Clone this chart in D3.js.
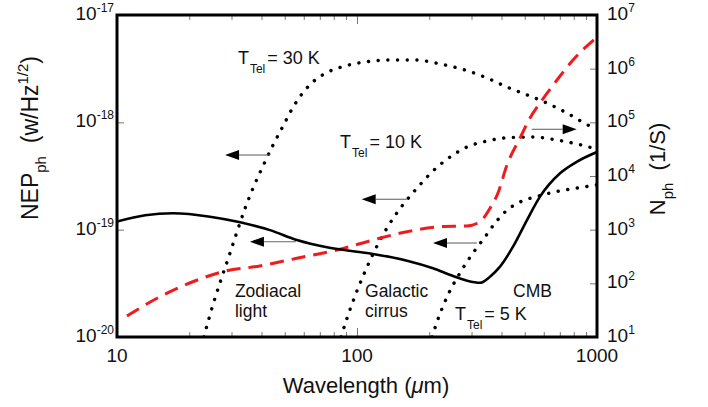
<!DOCTYPE html>
<html>
<head>
<meta charset="utf-8">
<script src="https://cdn.jsdelivr.net/npm/d3@7/dist/d3.min.js"></script>
<style>
  body { margin: 0; background: #fff; }
  svg text { font-family: "Liberation Sans", Arial, Helvetica, sans-serif; fill: #111; }
</style>
</head>
<body>
<svg id="chart" width="708" height="407"></svg>
<script>
// ---- axis ticks ----
const wavelengthTicks = [10, 100, 1000];
const wavelengthMinor = [20, 30, 40, 50, 60, 70, 80, 90, 200, 300, 400, 500, 600, 700, 800, 900];
const nepExponents = [-20, -19, -18, -17];
const nphExponents = [1, 2, 3, 4, 5, 6, 7];

// ---- photon-noise NEP from sky backgrounds (zodiacal light, cirrus, CMB), W/Hz^1/2 ----
const skyLambda = [10, 13.1, 17.1, 24.4, 32.6, 43.4, 56.2, 75, 100, 116.6, 161.6, 207.3, 251.2,
                   287.3, 325.5, 358.3, 394.3, 446.7, 510.9, 578.8, 701.4, 825.4, 1000];
const skyNEP = [1.19e-19, 1.36e-19, 1.42e-19, 1.32e-19, 1.17e-19, 9.9e-20, 8.0e-20, 6.85e-20, 6.23e-20,
                5.93e-20, 5.14e-20, 4.37e-20, 3.70e-20, 3.35e-20, 3.2e-20, 3.65e-20, 4.52e-20, 6.94e-20,
                1.23e-19, 2.03e-19, 3.35e-19, 4.30e-19, 5.29e-19];

// ---- telescope emission NEP at T_Tel = 30 K, 10 K, 5 K ----
const tel30Lambda = [23.0, 25.1, 27.1, 29.3, 31.6, 34.1, 37.2, 40.6, 44.7, 49.2, 53.6, 59.0, 66.2, 75.7,
                     89.1, 108, 137, 174, 222, 282, 348, 422, 511, 619, 750, 935, 1000];
const tel30NEP = [1.0e-20, 1.99e-20, 3.40e-20, 5.68e-20, 9.5e-20, 1.56e-19, 2.55e-19, 3.92e-19, 6.15e-19,
                  9.24e-19, 1.33e-18, 1.84e-18, 2.43e-18, 2.94e-18, 3.35e-18, 3.65e-18, 3.81e-18, 3.81e-18,
                  3.50e-18, 3.07e-18, 2.59e-18, 2.13e-18, 1.80e-18, 1.51e-18, 1.22e-18, 9.24e-19, 8.67e-19];

const tel10Lambda = [85.8, 90.9, 98.1, 106.9, 117.7, 129.6, 142.6, 160.0, 179.6, 207.3, 244.1, 287.3,
                     348, 434, 541, 681, 825, 953, 1000];
const tel10NEP = [1.0e-20, 1.50e-20, 2.41e-20, 3.86e-20, 6.19e-20, 9.31e-20, 1.31e-19, 1.85e-19, 2.50e-19,
                  3.52e-19, 4.75e-19, 5.89e-19, 6.70e-19, 7.22e-19, 7.30e-19, 6.84e-19, 6.28e-19, 5.77e-19,
                  5.52e-19];

const tel5Lambda = [205.4, 215.4, 237.1, 268.6, 304.3, 341.5, 375.8, 417.7, 477.8, 562.3, 681, 825, 1000];
const tel5NEP = [1.0e-20, 1.38e-20, 2.36e-20, 3.95e-20, 6.06e-20, 8.54e-20, 1.15e-19, 1.49e-19, 1.81e-19,
                 2.04e-19, 2.27e-19, 2.44e-19, 2.61e-19];

// ---- photon rate N_ph (1/s), right axis ----
const nphLambda = [11.0, 15.1, 20.7, 27.7, 39.4, 56.2, 82.5, 116.6, 161.6, 221.7, 287.3, 325.5, 358.3,
                   386.8, 421.7, 482.5, 525.8, 578.8, 681.3, 794.3, 1000];
const nphRate = [24.6, 56.4, 107, 165, 211, 293, 418, 642, 917, 1136, 1171, 1408, 2502, 4824, 16040,
                 55670, 120500, 229300, 615000, 1.45e6, 3.89e6];

// ---- arrows pointing to the axis each curve belongs to ----
const arrowFrom = [43.4, 55.7, 161.1, 316.2, 534.6];
const arrowTo = [28.2, 35.8, 104.6, 207.3, 823];
const arrowValue = [4.96e-19, 7.72e-20, 1.92e-19, 7.51e-20, 74200];
const arrowAxis = ["left", "left", "left", "left", "right"];

// ---- text annotations ----
const labelText = ["Zodiacal", "light", "Galactic", "cirrus", "CMB"];
const labelLambda = [31.0, 31.0, 108, 108, 447];
const labelNEP = [2.35e-20, 1.52e-20, 2.35e-20, 1.52e-20, 2.35e-20];
const tempText = ["= 30 K", "= 10 K", "= 5 K"];
const tempLambda = [31.9, 85, 256];
const tempNEP = [3.5e-18, 5.77e-19, 1.44e-20];

const svg = d3.select("#chart");
const plotLeft = 117, plotRight = 597, plotTop = 15, plotBottom = 337;

const x = d3.scaleLog().domain([10, 1000]).range([plotLeft, plotRight]);
const yL = d3.scaleLog().domain([1e-20, 1e-17]).range([plotBottom, plotTop]);
const yR = d3.scaleLog().domain([1e1, 1e7]).range([plotBottom, plotTop]);

svg.append("defs").append("clipPath").attr("id", "plot-clip")
  .append("rect").attr("x", plotLeft).attr("y", plotTop)
  .attr("width", plotRight - plotLeft).attr("height", plotBottom - plotTop);

// ---- inner ticks ----
const tickColor = "#777";
const bottomMinor = svg.append("g").attr("transform", `translate(0,${plotBottom})`)
  .call(d3.axisBottom(x).tickValues(wavelengthMinor).tickSize(-5).tickFormat(""));
const bottomMajor = svg.append("g").attr("transform", `translate(0,${plotBottom})`)
  .call(d3.axisBottom(x).tickValues(wavelengthTicks).tickSize(-9).tickFormat(""));
const topMinor = svg.append("g").attr("transform", `translate(0,${plotTop})`)
  .call(d3.axisTop(x).tickValues(wavelengthMinor).tickSize(-5).tickFormat(""));
const topMajor = svg.append("g").attr("transform", `translate(0,${plotTop})`)
  .call(d3.axisTop(x).tickValues(wavelengthTicks).tickSize(-9).tickFormat(""));
const leftTicks = svg.append("g").attr("transform", `translate(${plotLeft},0)`)
  .call(d3.axisLeft(yL).tickValues(nepExponents.map(e => Math.pow(10, e))).tickSize(-7).tickFormat(""));
const rightTicks = svg.append("g").attr("transform", `translate(${plotRight},0)`)
  .call(d3.axisRight(yR).tickValues(nphExponents.map(e => Math.pow(10, e))).tickSize(-7).tickFormat(""));
[bottomMinor, bottomMajor, topMinor, topMajor, leftTicks, rightTicks].forEach(g => {
  g.select(".domain").remove();
  g.selectAll(".tick line").attr("stroke", tickColor).attr("stroke-width", 1);
});

// ---- curves ----
const plot = svg.append("g").attr("clip-path", "url(#plot-clip)");
const lineL = d3.line().x(d => x(d[0])).y(d => yL(d[1])).curve(d3.curveMonotoneX);
const lineR = d3.line().x(d => x(d[0])).y(d => yR(d[1])).curve(d3.curveMonotoneX);
const zip = (a, b) => a.map((v, i) => [v, b[i]]);

[[tel30Lambda, tel30NEP], [tel10Lambda, tel10NEP], [tel5Lambda, tel5NEP]].forEach(([lx, ly]) => {
  plot.append("path").datum(zip(lx, ly)).attr("d", lineL).attr("fill", "none")
    .attr("stroke", "#000").attr("stroke-width", 3.4)
    .attr("stroke-dasharray", "0.1 9.6").attr("stroke-linecap", "round");
});

plot.append("path").datum(zip(nphLambda, nphRate)).attr("d", lineR)
  .attr("fill", "none").attr("stroke", "#ee1c1c").attr("stroke-width", 3)
  .attr("stroke-dasharray", "14 8");

plot.append("path").datum(zip(skyLambda, skyNEP)).attr("d", lineL)
  .attr("fill", "none").attr("stroke", "#000").attr("stroke-width", 2.6)
  .attr("stroke-linejoin", "round");

// ---- arrows ----
arrowFrom.forEach((lf, i) => {
  const yy = (arrowAxis[i] === "left" ? yL : yR)(arrowValue[i]);
  const x0 = x(lf), x1 = x(arrowTo[i]);
  const dir = Math.sign(x1 - x0);
  const headLen = 14, halfW = 5;
  svg.append("line").attr("x1", x0).attr("x2", x1 - dir * headLen).attr("y1", yy).attr("y2", yy)
    .attr("stroke", "#666").attr("stroke-width", 1.1);
  svg.append("path")
    .attr("d", `M${x1},${yy}L${x1 - dir * headLen},${yy - halfW}L${x1 - dir * headLen},${yy + halfW}Z`)
    .attr("fill", "#000");
});

// ---- frame ----
svg.append("rect").attr("x", plotLeft).attr("y", plotTop)
  .attr("width", plotRight - plotLeft).attr("height", plotBottom - plotTop)
  .attr("fill", "none").attr("stroke", "#000").attr("stroke-width", 3);

// ---- tick labels ----
wavelengthTicks.forEach(v => {
  svg.append("text").attr("x", x(v)).attr("y", plotBottom + 25).attr("text-anchor", "middle")
    .attr("font-size", 19).text(v);
});
nepExponents.forEach(e => {
  const t = svg.append("text").attr("x", plotLeft - 3).attr("y", yL(Math.pow(10, e)) + 5)
    .attr("text-anchor", "end").attr("font-size", 19);
  t.append("tspan").text("10");
  t.append("tspan").attr("font-size", 12).attr("dy", -8).text(e);
});
nphExponents.forEach(e => {
  const t = svg.append("text").attr("x", plotRight + 10).attr("y", yR(Math.pow(10, e)) + 5)
    .attr("font-size", 19);
  t.append("tspan").text("10");
  t.append("tspan").attr("font-size", 12).attr("dy", -8).text(e);
});

// ---- axis titles ----
const xt = svg.append("text").attr("x", 366).attr("y", 393).attr("text-anchor", "middle").attr("font-size", 22);
xt.append("tspan").text("Wavelength (");
xt.append("tspan").attr("font-style", "italic").text("\u03bc");
xt.append("tspan").text("m)");

const ylt = svg.append("text").attr("transform", "translate(38,138) rotate(-90)")
  .attr("text-anchor", "middle").attr("font-size", 23);
ylt.append("tspan").text("NEP");
ylt.append("tspan").attr("font-size", 15).attr("dy", 8).text("ph");
ylt.append("tspan").attr("dy", -8).text("\u00a0\u00a0(w/Hz");
ylt.append("tspan").attr("font-size", 15).attr("dy", -10).text("1/2");
ylt.append("tspan").attr("dy", 10).text(")");

const yrt = svg.append("text").attr("transform", "translate(665,169) rotate(-90)")
  .attr("text-anchor", "middle").attr("font-size", 22);
yrt.append("tspan").text("N");
yrt.append("tspan").attr("font-size", 15).attr("dy", 8).text("ph");
yrt.append("tspan").attr("dy", -8).text("\u00a0\u00a0(1/S)");

// ---- annotations ----
labelText.forEach((s, i) => {
  svg.append("text").attr("x", x(labelLambda[i])).attr("y", yL(labelNEP[i]))
    .attr("font-size", 17.5).text(s);
});
tempText.forEach((s, i) => {
  const t = svg.append("text").attr("x", x(tempLambda[i])).attr("y", yL(tempNEP[i])).attr("font-size", 18);
  t.append("tspan").text("T");
  t.append("tspan").attr("font-size", 12).attr("dy", 9).attr("dx", 1).text("Tel");
  t.append("tspan").attr("dy", -9).attr("dx", 2).text(s);
});
</script>
</body>
</html>
